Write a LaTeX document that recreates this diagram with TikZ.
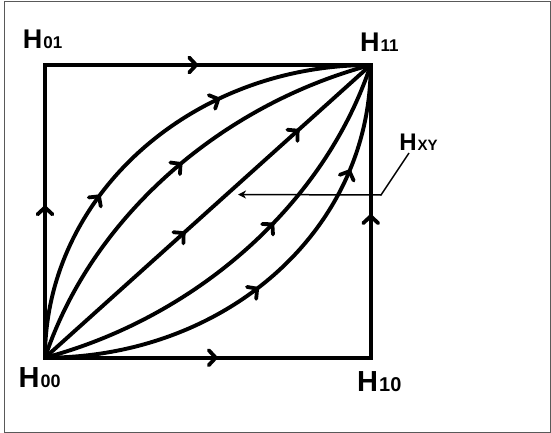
\documentclass[tikz,border=0pt]{standalone}
\usepackage{fontspec}
\setmainfont{Liberation Sans}
\usetikzlibrary{arrows.meta,decorations.markings,calc}
\tikzset{
  x=1pt, y=-1pt,
  midtip/.tip={Straight Barb[length=7pt,width=15pt,line width=3.8pt,round]},
  edgeline/.style={line width=4.4pt, line cap=rect},
  curveline/.style={line width=3.9pt},
  arrowat/.style={postaction={decorate, decoration={markings,
      mark=at position #1 with {\arrow{midtip}}}}},
  leader/.style={line width=1.5pt, -{Stealth[length=8pt,width=8pt,inset=2.5pt]}},
  framebox/.style={draw=black!65, line width=1pt},
  lab/.style={anchor=base west, inner sep=0pt, outer sep=0pt, font=\bfseries},
}
\newcommand{\hlab}[3]{\fontsize{#1}{#1}\selectfont H\kern1pt\fontsize{#2}{#2}\selectfont #3}
\begin{document}
\begin{tikzpicture}
\useasboundingbox (0,0) rectangle (551,433);
\draw[framebox] (4,1.5) rectangle (550,432);

% corners
\coordinate (c00) at (45,357.7);
\coordinate (c01) at (45,65);
\coordinate (c11) at (370.7,65);
\coordinate (c10) at (370.7,357.7);

% labels
\node[lab] (l01) at (23,49) {\hlab{27}{17}{01}};
\node[lab] (l11) at (360,51.5) {\hlab{27}{17}{11}};
\node[lab] (l00) at (18.6,387.3) {\hlab{29}{18}{00}};
\node[lab] (l10) at (357.2,391) {\hlab{29}{20}{10}};
\node[lab] (lxy) at (399.3,150) {\hlab{24}{15}{XY}};

% square edges
\draw[edgeline, arrowat=0.52] (c00) -- (c01);
\draw[edgeline, arrowat=0.47] (c01) -- (c11);
\draw[edgeline, arrowat=0.53] (c00) -- (c10);
\draw[edgeline, arrowat=0.49] (c10) -- (c11);

% diagonal
\draw[curveline, arrowat=0.43, arrowat=0.78] (c00) -- (c11);

% upper outer
\draw[curveline, arrowat=0.36, arrowat=0.68]
  (c00) .. controls ($(c00)!0.552!(c01)$) and ($(c01)!0.448!(c11)$) .. (c11);
% upper second
\coordinate (u2a) at (90.6,220.1);
\coordinate (u2b) at (217.6,106.0);
\draw[curveline, arrowat=0.53] (c00) .. controls (u2a) and (u2b) .. (c11);
% lower second
\coordinate (d2a) at (198.1,316.7);
\coordinate (d2b) at (325.1,202.6);
\draw[curveline, arrowat=0.59] (c00) .. controls (d2a) and (d2b) .. (c11);
% lower outer
\draw[curveline, arrowat=0.47, arrowat=0.78]
  (c00) .. controls ($(c00)!0.55!(c10)$) and ($(c10)!0.43!(c11)$) .. (c11);

% leader for H_XY
\coordinate (ltop) at (409,153);
\coordinate (lknee) at (381,195);
\coordinate (ltip) at (238,194.5);
\draw[leader] (ltop) -- (lknee) -- (ltip);
\end{tikzpicture}
\end{document}
